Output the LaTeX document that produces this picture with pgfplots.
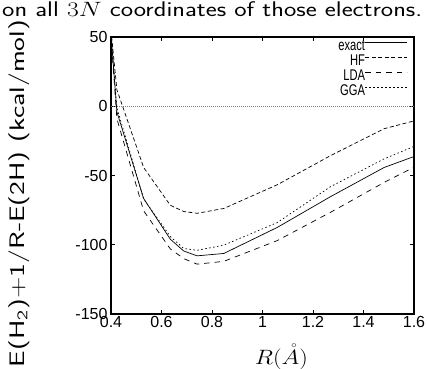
\documentclass[border=0pt]{standalone}
\usepackage{pgfplots}
\pgfplotsset{compat=1.18}
\usepackage{graphicx}
\usepackage{fontspec}
\newfontfamily\helv{Liberation Sans}

\pgfplotstableread{
R       exact   HF      LDA     GGA
0.4000  52      55      50      53
0.4233  -4      12      -9      -1
0.5292  -66.6   -44.2   -75.5   -67
0.6350  -96     -71.5   -103    -94
0.6879  -104.5  -76     -110    -102.7
0.7408  -108    -77.3   -114    -104
0.8467  -106.3  -73.8   -112    -100.3
1.0583  -87.5   -56.7   -97     -84
1.2700  -65.2   -35.6   -76.5   -58
1.4817  -44.2   -16.2   -55     -38
1.6000  -36.3   -10.6   -44     -29
}\datatable

\begin{document}
\begin{tikzpicture}
\path[use as bounding box] (-111pt,-54pt) rectangle (316pt,314pt);
\begin{axis}[
  at={(0,0)}, anchor=south west,
  scale only axis, width=303pt, height=277pt,
  xmin=0.4, xmax=1.6, ymin=-150, ymax=50,
  xtick={0.4,0.6,0.8,1,1.2,1.4,1.6},
  xticklabels={0.4,0.6,0.8,1,1.2,1.4,1.6},
  ytick={-150,-100,-50,0,50},
  yticklabels={-150,-100,-50,0,50},
  tick align=inside, major tick length=4pt,
  axis line style={line width=1.2pt},
  tick style={line width=0.8pt, black},
  xticklabel style={font=\helv\fontsize{16}{18}\selectfont, inner sep=0pt, yshift=-2pt},
  yticklabel style={font=\helv\fontsize{16}{18}\selectfont},
  title={\resizebox{420pt}{\height}{\fontsize{21.2}{24}\selectfont\sffamily on all $3N$ coordinates of those electrons.}},
  title style={at={(axis description cs:-0.3597,1.0516)}, anchor=base west, inner sep=0pt},
  xlabel={\resizebox{53pt}{\height}{\fontsize{19.5}{21}\selectfont$R(\mathring{A})$}},
  xlabel style={at={(axis description cs:0.5627,-0.1805)}, anchor=base, inner sep=0pt},
  ylabel={\resizebox{347pt}{\height}{\fontsize{21}{24}\selectfont\sffamily E(H\textsubscript{2})+1/R-E(2H) (kcal/mol)}},
  ylabel style={at={(axis description cs:-0.3036,0.435)}, anchor=center, inner sep=0pt},
  legend style={draw=none, fill=none, at={(axis description cs:0.98,0.99)}, anchor=north east,
    font=\helv\fontsize{15.5}{15.5}\selectfont, row sep=2.5pt, inner sep=0pt,
    nodes={inner sep=0pt, text height=11pt, text depth=1.5pt}},
  legend cell align=right, legend plot pos=right,
  legend image code/.code={\draw[#1] (1.5pt,3.5pt) -- (43.5pt,3.5pt);},
]
\addplot[gray, line width=0.4pt, dash pattern=on 1pt off 1pt, forget plot] coordinates {(0.4,0) (1.6,0)};
\addplot[black, line width=0.7pt] table[x=R, y=exact] {\datatable};
\addlegendentry{\scalebox{0.72}[1]{exact}}
\addplot[black, line width=0.7pt, dash pattern=on 4pt off 2.5pt] table[x=R, y=HF] {\datatable};
\addlegendentry{\scalebox{0.72}[1]{HF}}
\addplot[black, line width=0.7pt, dash pattern=on 5.5pt off 5pt] table[x=R, y=LDA] {\datatable};
\addlegendentry{\scalebox{0.72}[1]{LDA}}
\addplot[black, line width=0.7pt, dash pattern=on 1.5pt off 2.5pt] table[x=R, y=GGA] {\datatable};
\addlegendentry{\scalebox{0.72}[1]{GGA}}
\end{axis}
\end{tikzpicture}
\end{document}
